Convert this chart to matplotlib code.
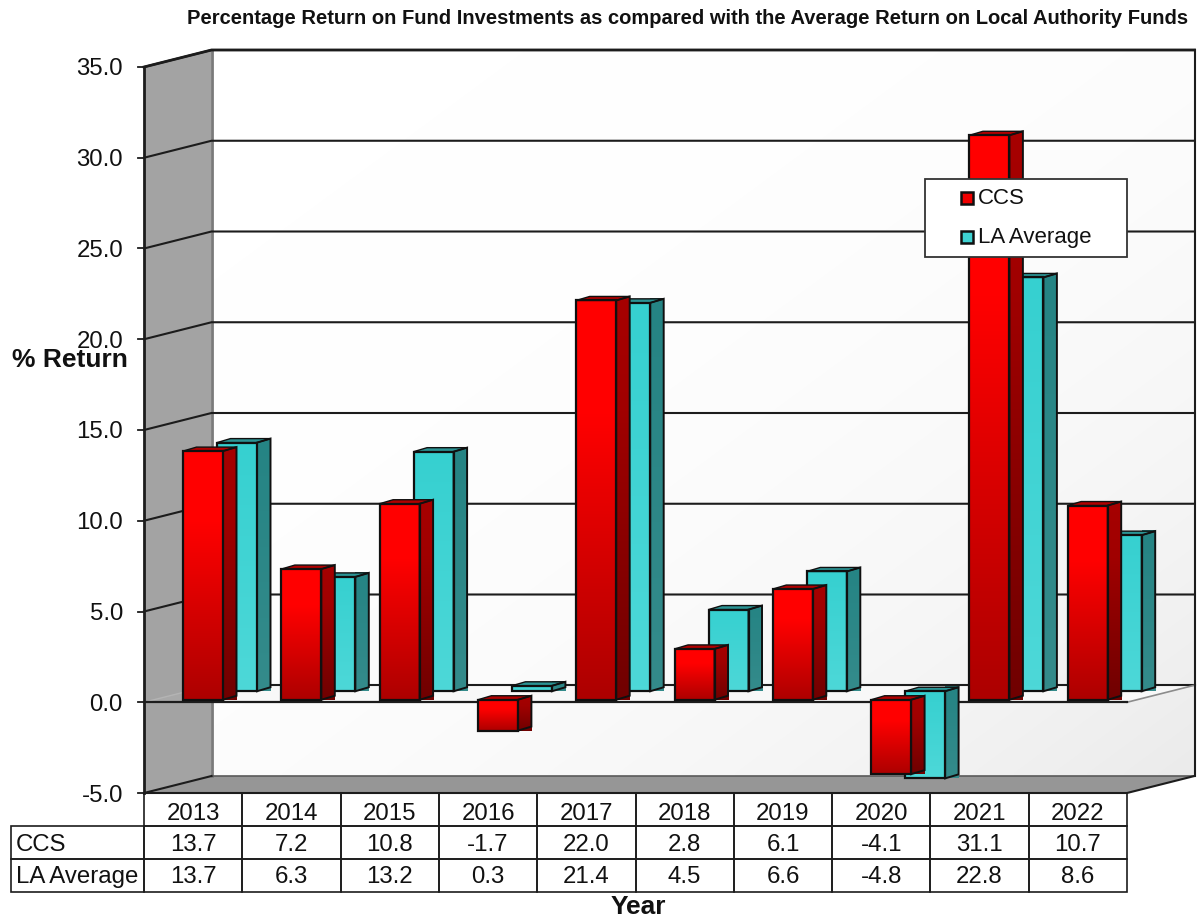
import matplotlib
matplotlib.use('Agg')
import matplotlib.pyplot as plt
from matplotlib.colors import LinearSegmentedColormap
from matplotlib.patches import Polygon, Rectangle
import numpy as np

years = ['2013', '2014', '2015', '2016', '2017', '2018', '2019', '2020', '2021', '2022']
ccs = [13.7, 7.2, 10.8, -1.7, 22.0, 2.8, 6.1, -4.1, 31.1, 10.7]
la_average = [13.7, 6.3, 13.2, 0.3, 21.4, 4.5, 6.6, -4.8, 22.8, 8.6]
y_ticks = [-5, 0, 5, 10, 15, 20, 25, 30, 35]

W, H = 1198, 923
LEFT, RIGHT, TOP, BOTTOM = 144, 1127, 67, 793

plt.rcParams['font.family'] = ['Liberation Sans', 'DejaVu Sans']
fig = plt.figure(figsize=(W / 100, H / 100), dpi=100)
ax = fig.add_axes([LEFT / W, 1 - BOTTOM / H, (RIGHT - LEFT) / W, (BOTTOM - TOP) / H])
ax.axis('off')

X_UNIT = (RIGHT - LEFT) / 10
Y_UNIT = (BOTTOM - TOP) / 40
# depth of the box and of the bars, in data units
DX, DY = 67.5 / X_UNIT, 17 / Y_UNIT
BAR_DX, BAR_DY = 13.5 / X_UNIT, 4 / Y_UNIT
BAR_W = 40 / X_UNIT
CCS_START = 39 / X_UNIT
CCS_SHIFT_Y = 2.5 / Y_UNIT
LA_SHIFT_X, LA_SHIFT_Y = 34 / X_UNIT, 11 / Y_UNIT
DARK = '#1c1c1c'

red_front = LinearSegmentedColormap.from_list('rf', [(0, '#ff0000'), (0.28, '#ff0000'), (1, '#ad0000')])
red_side = LinearSegmentedColormap.from_list('rs', [(0, '#a60000'), (0.28, '#a00000'), (1, '#700000')])
teal_front = LinearSegmentedColormap.from_list('tf', ['#36d0d0', '#4dd8d8'])
teal_side = LinearSegmentedColormap.from_list('ts', ['#258484', '#348b8b'])
wall_cmap = LinearSegmentedColormap.from_list('w', ['#ffffff', '#ebebeb'])


def gradient(cmap, x0, x1, y0, y1, zorder):
    g = np.linspace(0, 1, 64).reshape(-1, 1)
    return ax.imshow(g, cmap=cmap, extent=(x0, x1, y0, y1), origin='upper', aspect='auto',
                     zorder=zorder, clip_on=False, interpolation='bilinear')


def draw_bar(i, value, base_dx, base_dy, front, side, top_color, zorder):
    x0 = i + CCS_START + base_dx
    x1 = x0 + BAR_W
    hi = max(value, 0) + base_dy
    lo = min(value, 0) + base_dy
    # front face
    gradient(front, x0, x1, lo, hi, zorder)
    ax.add_patch(Rectangle((x0, lo), BAR_W, hi - lo, fill=False, ec='#101010', lw=1.6,
                           zorder=zorder + 0.2, clip_on=False))
    # side face
    side_pts = [(x1, lo), (x1 + BAR_DX, lo + BAR_DY), (x1 + BAR_DX, hi + BAR_DY), (x1, hi)]
    im = gradient(side, x1, x1 + BAR_DX, lo, hi + BAR_DY, zorder)
    clip = Polygon(side_pts, transform=ax.transData, fc='none', ec='none')
    ax.add_patch(clip)
    im.set_clip_path(clip)
    ax.add_patch(Polygon(side_pts, fill=False, ec='#101010', lw=1.4, zorder=zorder + 0.2, clip_on=False))
    # top face
    ax.add_patch(Polygon([(x0, hi), (x1, hi), (x1 + BAR_DX, hi + BAR_DY), (x0 + BAR_DX, hi + BAR_DY)],
                         fc=top_color, ec='#101010', lw=1.0, zorder=zorder + 0.1, clip_on=False))


# box: back wall, left wall, floor
back = gradient(wall_cmap, DX, 10 + DX, -5 + DY, 35 + DY, 1)
u, v = np.meshgrid(np.linspace(0, 1, 128), np.linspace(0, 1, 128))
back.set_array(((u + v) / 2) ** 3)
ax.add_patch(Polygon([(0, -5), (DX, -5 + DY), (DX, 35 + DY), (0, 35)], fc='#a3a3a3', ec='none',
                     zorder=2, clip_on=False))
ax.add_patch(Polygon([(0, -5), (DX, -5 + DY), (10 + DX, -5 + DY), (10, -5)], fc='#969696', ec='none',
                     zorder=2, clip_on=False))
ax.plot([DX, DX], [-5 + DY, 35 + DY], color='#7a7a7a', lw=2, zorder=3, clip_on=False)
ax.plot([DX, 10 + DX], [-5 + DY, -5 + DY], color='#5a5a5a', lw=1.2, zorder=3, clip_on=False)

# grid on both walls
for t in y_ticks:
    if t == -5:
        ax.plot([0, DX], [t, t + DY], color=DARK, lw=1.5, zorder=4, clip_on=False)
    elif t != 0:
        ax.plot([0, DX, 10 + DX], [t, t + DY, t + DY], color=DARK, lw=1.5, zorder=4, clip_on=False)
    ax.plot([-6 / X_UNIT, 0], [t, t], color=DARK, lw=1.3, zorder=4, clip_on=False)
    ax.text(-21 / X_UNIT, t, '%.1f' % t, ha='right', va='center_baseline', fontsize=17.3, color='#111111',
            zorder=9, clip_on=False)

# zero plane
ax.add_patch(Polygon([(0, 0), (DX, DY), (DX, 0)], fc='#a8a8a8', ec='none', zorder=3.5, clip_on=False))
ax.add_patch(Polygon([(DX, 0), (DX, DY), (10 + DX, DY), (10, 0)], fc='#f8f8f8', ec='none', zorder=3.5,
                     clip_on=False))
ax.plot([DX, 10 + DX], [DY, DY], color=DARK, lw=1.5, zorder=4, clip_on=False)
ax.plot([10, 10 + DX], [0, DY], color='#8c8c8c', lw=1.2, zorder=4, clip_on=False)
ax.plot([0, DX], [0, DY], color='#b4b4b4', lw=1.0, zorder=4, clip_on=False)
ax.plot([0, 10], [0, 0], color=DARK, lw=1.6, zorder=4.5, clip_on=False)

# outer edges of the box
ax.plot([0, 0], [-5, 35], color=DARK, lw=2, zorder=8, clip_on=False)
ax.plot([10 + DX, 10 + DX], [-5 + DY, 35 + DY], color=DARK, lw=1.5, zorder=8, clip_on=False)
ax.plot([0, DX, 10 + DX], [35, 35 + DY, 35 + DY], color=DARK, lw=2, zorder=8, clip_on=False)
ax.plot([0, 10, 10 + DX], [-5, -5, -5 + DY], color=DARK, lw=1.5, zorder=8, clip_on=False)

for i in range(len(years)):
    draw_bar(i, la_average[i], LA_SHIFT_X, LA_SHIFT_Y, teal_front, teal_side, '#2a9494', 5)
    draw_bar(i, ccs[i], 0, CCS_SHIFT_Y, red_front, red_side, '#b00000', 6)

ax.set_xlim(0, 10)
ax.set_ylim(-5, 35)

# data table under the chart
table_rows = [years, ['%.1f' % v for v in ccs], ['%.1f' % v for v in la_average]]
row_labels = ['', 'CCS', 'LA Average']
row_px = [793, 825.7, 859, 891.7]
text_nudge = [2.5, 0, -0.5]


def to_fig(px, py):
    return px / W, 1 - py / H


for r, cells in enumerate(table_rows):
    y_top, y_bot = row_px[r], row_px[r + 1]
    _, fy_top = to_fig(0, y_top)
    _, fy_bot = to_fig(0, y_bot)
    _, fy_text = to_fig(0, (y_top + y_bot) / 2 + text_nudge[r])
    for c, cell in enumerate(cells):
        x0 = LEFT + c * X_UNIT
        fx0, _ = to_fig(x0, 0)
        fig.add_artist(Rectangle((fx0, fy_bot), X_UNIT / W, fy_top - fy_bot, fc='none', ec=DARK, lw=1.2,
                                 transform=fig.transFigure))
        fig.text(fx0 + X_UNIT / 2 / W, fy_text, cell, ha='center', va='center_baseline',
                 fontsize=17.3, color='#111111')
    if row_labels[r]:
        fig.add_artist(Rectangle((11 / W, fy_bot), (LEFT - 11) / W, fy_top - fy_bot, fc='none', ec=DARK, lw=1.2,
                                 transform=fig.transFigure))
        fig.text(16 / W, fy_text, row_labels[r], ha='left', va='center_baseline',
                 fontsize=17.3, color='#111111')

# legend box
fx, fy = to_fig(925, 257)
fig.add_artist(Rectangle((fx, fy), 202 / W, 78 / H, fc='white', ec='#333333', lw=1.3,
                         transform=fig.transFigure, zorder=20))
legend_items = [('CCS', '#f00000', 198), ('LA Average', '#3ed2d2', 237)]
for name, col, py in legend_items:
    fx, fy = to_fig(961, py + 6)
    fig.add_artist(Rectangle((fx, fy), 12 / W, 12 / H, fc=col, ec='#101010', lw=1.8,
                             transform=fig.transFigure, zorder=21))
    fig.text(978 / W, 1 - py / H, name, ha='left', va='center', fontsize=16, color='#111111', zorder=21)

fig.text(1188 / W, 1 - 18 / H,
         'Percentage Return on Fund Investments as compared with the Average Return on Local Authority Funds',
         ha='right', va='center', fontsize=14.5, fontweight='bold', color='#111111')
fig.text(12 / W, 1 - 360 / H, '% Return', ha='left', va='center', fontsize=19, fontweight='bold',
         color='#111111', zorder=22)
fig.text(638 / W, 1 - 907 / H, 'Year', ha='center', va='center', fontsize=19, fontweight='bold',
         color='#111111')

fig.savefig('out.png', dpi=100)
